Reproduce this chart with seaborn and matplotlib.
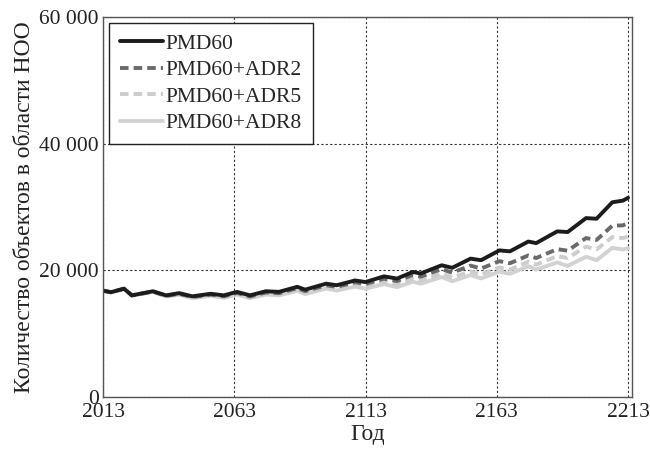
import matplotlib
matplotlib.use("Agg")
import matplotlib.pyplot as plt
import seaborn as sns
import pandas as pd

years = [2013, 2016, 2021, 2024, 2032, 2037, 2042, 2047, 2054, 2059, 2064, 2069, 2075, 2080,
         2087, 2090, 2098, 2102, 2109, 2113, 2120, 2125, 2131, 2134, 2142, 2146, 2153, 2157,
         2164, 2168, 2175, 2178, 2186, 2190, 2197, 2201, 2207, 2211, 2213]
pmd60 = [16800, 16550, 17100, 16050, 16700, 16050, 16400, 15900, 16300, 16050, 16600, 16050, 16700, 16600,
         17400, 16950, 17900, 17650, 18400, 18150, 19050, 18700, 19750, 19500, 20800, 20400, 21850, 21600,
         23150, 23000, 24550, 24300, 26150, 26050, 28250, 28150, 30750, 31000, 31450]
adr2 = [16800, 16550, 17100, 16050, 16650, 15970, 16300, 15790, 16170, 15900, 16440, 15880, 16510, 16400,
        17180, 16720, 17650, 17390, 18120, 17850, 18690, 18300, 19280, 18990, 20200, 19620, 20750, 20280,
        21450, 21120, 22350, 21940, 23350, 23100, 25100, 24800, 27050, 27100, 27450]
adr5 = [16800, 16550, 17100, 16050, 16650, 15950, 16250, 15730, 16100, 15810, 16340, 15760, 16370, 16250,
        17000, 16520, 17420, 17120, 17780, 17450, 18200, 17750, 18670, 18350, 19500, 18850, 19850, 19350,
        20450, 20120, 21350, 20900, 22250, 21950, 23750, 23300, 25250, 25100, 25300]
adr8 = [16750, 16500, 17050, 16000, 16600, 15870, 16150, 15620, 15970, 15660, 16180, 15600, 16180, 16050,
        16760, 16260, 17130, 16810, 17440, 17100, 17830, 17350, 18220, 17880, 18950, 18280, 19250, 18730,
        19800, 19450, 20650, 20130, 21250, 20700, 22150, 21600, 23550, 23300, 23450]

series_names = ["PMD60", "PMD60+ADR2", "PMD60+ADR5", "PMD60+ADR8"]
x_ticks = [2013, 2063, 2113, 2163, 2213]
y_ticks = [0, 20000, 40000, 60000]
y_tick_labels = ["0", "20 000", "40 000", "60 000"]

rows = []
for name, vals in zip(series_names, [pmd60, adr2, adr5, adr8]):
    for yr, v in zip(years, vals):
        rows.append({"year": yr, "value": v, "series": name})
df = pd.DataFrame(rows)

sns.set_theme(style="white")
plt.rcParams["font.family"] = ["Liberation Serif", "DejaVu Serif"]

fig = plt.figure(figsize=(6.5, 4.51), dpi=100)
ax = fig.add_axes([0.1585, 0.1197, 0.8138, 0.8426])

palette = {"PMD60": "#1c1c1c", "PMD60+ADR2": "#6a6a6a",
           "PMD60+ADR5": "#cdcdcd", "PMD60+ADR8": "#d2d2d2"}
dashes = {"PMD60": None, "PMD60+ADR2": (2.2, 1.3),
          "PMD60+ADR5": (2.2, 1.3), "PMD60+ADR8": None}

# draw in reverse so PMD60 is on top
for name in reversed(series_names):
    sub = df[df["series"] == name]
    ls = "-" if dashes[name] is None else (0, dashes[name])
    sns.lineplot(data=sub, x="year", y="value", ax=ax, color=palette[name],
                 linewidth=2.8, label=name, linestyle=ls)

ax.set_xlim(2013, 2214.5)
ax.set_ylim(0, 60000)
ax.set_xticks(x_ticks)
ax.set_xticklabels([str(t) for t in x_ticks])
ax.set_yticks(y_ticks)
ax.set_yticklabels(y_tick_labels)
ax.tick_params(length=0, labelsize=15.5, colors="#222222")
ax.tick_params(axis="x", pad=4.5)
ax.tick_params(axis="y", pad=3)
ax.grid(True, color="#333333", linestyle=(0, (2, 2)), linewidth=0.8)
for s in ax.spines.values():
    s.set_color("#555555")
    s.set_linewidth(1.0)

ax.set_xlabel("Год", fontsize=17, color="#222222", labelpad=1)
ax.set_ylabel("Количество объектов в области НОО", fontsize=17, color="#222222", labelpad=3)

handles, labels = ax.get_legend_handles_labels()
order = [labels.index(n) for n in series_names]
leg = ax.legend([handles[i] for i in order], [labels[i] for i in order],
                loc="upper left", fontsize=15.5, frameon=True, fancybox=False,
                borderaxespad=0.27, handlelength=2.0, handletextpad=0.15,
                labelspacing=0.3, borderpad=0.5)
leg.get_frame().set_edgecolor("#222222")
leg.get_frame().set_linewidth(1.0)
leg.get_frame().set_alpha(1)

fig.savefig("out.png", dpi=100)
